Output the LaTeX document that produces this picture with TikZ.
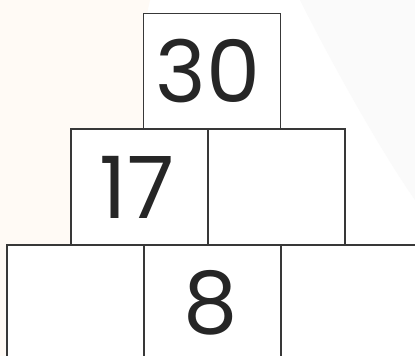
\documentclass[tikz,border=0pt]{standalone}
\usepackage{fontspec}
\setmainfont{Poppins}
\begin{document}
\begin{tikzpicture}[x=1pt,y=-1pt,
  cell/.style={draw=black!78,line width=1.6pt,fill=white,rectangle,
    minimum width=137pt,minimum height=115.5pt,inner sep=0pt,outer sep=0pt},
  num/.style={inner sep=0pt,font=\fontsize{86}{86}\selectfont,text=black!85}]
\useasboundingbox (0,0) rectangle (415,356);
\begin{scope}
\clip (0,0) rectangle (415,356);
% faint background
\fill[white] (0,0) rectangle (415,356);
\fill[orange!4!white] (0,0) -- (150,0) .. controls (120,120) and (260,200) .. (230,356) -- (0,356) -- cycle;
\fill[black!2] (300,0) -- (415,0) -- (415,200) .. controls (380,150) and (330,60) .. (300,0) -- cycle;
% top row
\node[cell] (t) at (212,71.25) {};
% middle row
\node[cell] (m1) at (139.5,187) {};
\node[cell] (m2) at (276.5,187) {};
% bottom row
\node[cell] (b1) at (75.5,302.75) {};
\node[cell] (b2) at (212.5,302.75) {};
\node[cell] (b3) at (349.5,302.75) {};
\end{scope}
\node[num] (t30) at (208,71) {30};
\node[num] (m17) at (137,187) {17};
\node[num] (b8) at (211,303) {8};
\end{tikzpicture}
\end{document}
